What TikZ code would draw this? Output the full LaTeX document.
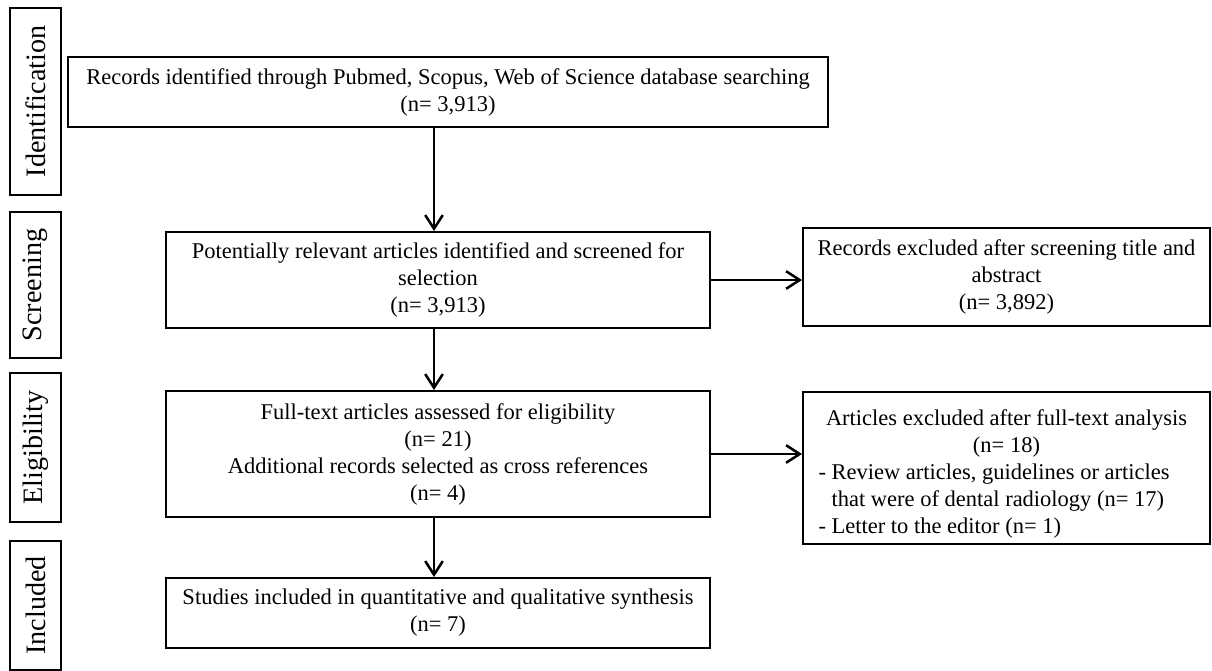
\documentclass[tikz,border=0pt]{standalone}
\usepackage{fontspec}
\setmainfont{Liberation Serif}
\usepackage{tikz}
\usetikzlibrary{arrows.meta, positioning}

\begin{document}
\begin{tikzpicture}[
  stage/.style={draw, line width=1.4pt, rotate=90, inner sep=0pt, minimum height=1.275cm, font=\fontsize{20}{24}\selectfont},
  box/.style={draw, line width=1.4pt, align=center, inner sep=0pt, font=\fontsize{16}{19.2}\selectfont},
  arr/.style={-{Straight Barb[length=3.4mm, width=4.4mm]}, line width=1.8pt}
]
\useasboundingbox (0,0) rectangle (30.3,-16.775);
\node[stage, minimum width=4.675cm] (idf) at (0.8875,-2.5375) {Identification};
\node[stage, minimum width=3.65cm] (scr) at (0.8875,-7.125) {Screening};
\node[stage, minimum width=3.725cm] (eli) at (0.8875,-11.1875) {Eligibility};
\node[stage, minimum width=3.225cm] (inc) at (0.8875,-15.1375) {Included};

\node[box, minimum width=19cm, minimum height=1.75cm] (rec) at (11.2,-2.3) {Records identified through Pubmed, Scopus, Web of Science database searching\\(n= 3,913)};
\node[box, minimum width=13.6cm, minimum height=2.4cm] (screen) at (10.95,-7.0) {Potentially relevant articles identified and screened for\\selection\\(n= 3,913)};
\node[box, minimum width=10.175cm, minimum height=2.45cm] (excl1) at (25.1625,-6.925) {Records excluded after screening title and\\abstract\\(n= 3,892)};
\node[box, minimum width=13.6cm, minimum height=3.15cm] (elig) at (10.95,-11.35) {Full-text articles assessed for eligibility\\(n= 21)\\Additional records selected as cross references\\(n= 4)};
\node[box, align=none, text width=9.4cm, minimum width=10.175cm, minimum height=3.8cm] (excl2) at (25.1625,-11.7) {\centering\rule{0pt}{0.7cm}Articles excluded after full-text analysis\\(n= 18)\par
  \raggedright - Review articles, guidelines or articles\\\hphantom{- }that were of dental radiology (n= 17)\\- Letter to the editor (n= 1)\par};
\node[box, minimum width=13.6cm, minimum height=1.75cm] (incl) at (10.95,-15.325) {Studies included in quantitative and qualitative synthesis\\(n= 7)};

\coordinate (ax) at (10.85,0);
\draw[arr] (rec.south -| ax) -- (screen.north -| ax);
\draw[arr] (screen.south -| ax) -- (elig.north -| ax);
\draw[arr] (elig.south -| ax) -- (incl.north -| ax);
\draw[arr] (screen.east) -- (screen.east -| excl1.west);
\draw[arr] (elig.east) -- (elig.east -| excl2.west);
\end{tikzpicture}
\end{document}
